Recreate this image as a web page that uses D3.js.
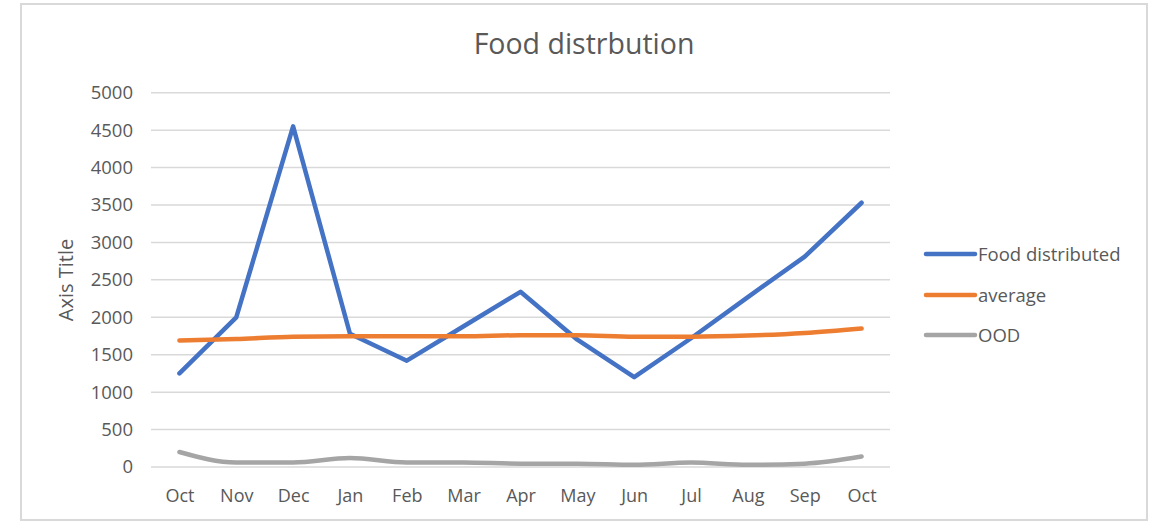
<!DOCTYPE html>
<html><head><meta charset="utf-8">
<script src="https://cdn.jsdelivr.net/npm/d3@7"></script>
<style>body{margin:0;background:#fff;font-family:"Open Sans",sans-serif;}</style>
</head><body><svg id="c" width="1159" height="522"></svg>
<script>
const months = ["Oct","Nov","Dec","Jan","Feb","Mar","Apr","May","Jun","Jul","Aug","Sep","Oct"];
const foodDistributed = [1250,2000,4550,1780,1420,1880,2340,1700,1200,1720,2270,2810,3530];
const average = [1690,1710,1740,1745,1745,1745,1760,1760,1740,1740,1755,1790,1850];
const ood = [200,60,60,120,60,60,45,45,30,60,30,45,140];
const yTicks = [0,500,1000,1500,2000,2500,3000,3500,4000,4500,5000];
const seriesNames = ["Food distributed","average","OOD"];
const seriesColors = ["#4472C4","#ED7D31","#A5A5A5"];

(function(){
const svg = d3.select("#c");
svg.append("rect").attr("x",21).attr("y",4).attr("width",1126).attr("height",516)
  .attr("fill","#fff").attr("stroke","#D9D9D9").attr("stroke-width",2);

const pL=151,pR=890,pT=92.7,pB=467;
const x = d3.scalePoint().domain(d3.range(months.length)).range([pL,pR]).padding(0.5);
const y = d3.scaleLinear().domain([0,5000]).range([pB,pT]);

const g = svg.append("g");
g.selectAll("line.grid").data(yTicks).join("line").attr("class","grid")
  .attr("x1",pL).attr("x2",pR).attr("y1",d=>y(d)).attr("y2",d=>y(d))
  .attr("stroke","#D9D9D9").attr("stroke-width",1.5);

const yAxis = d3.axisLeft(y).tickValues(yTicks).tickFormat(d3.format("d")).tickSize(0).tickPadding(0);
const ya = svg.append("g").attr("transform",`translate(133,0)`).call(yAxis);
ya.select(".domain").remove();
ya.selectAll("text").attr("fill","#595959").style("font-size","18.5px").style("font-family","Open Sans");

const xAxis = d3.axisBottom(x).tickFormat(i=>months[i]).tickSize(0).tickPadding(0);
const xa = svg.append("g").attr("transform",`translate(0,489)`).call(xAxis);
xa.select(".domain").remove();
xa.selectAll("text").attr("fill","#595959").style("font-size","18px").style("font-family","Open Sans");

const data = [foodDistributed, average, ood];
const curves = [d3.curveLinear, d3.curveMonotoneX, d3.curveMonotoneX];
data.forEach((s,k)=>{
  const line = d3.line().x((d,i)=>x(i)).y(d=>y(d)).curve(curves[k]);
  svg.append("path").datum(s).attr("d",line).attr("fill","none")
    .attr("stroke",seriesColors[k]).attr("stroke-width",4.5)
    .attr("stroke-linecap","round").attr("stroke-linejoin","round");
});

svg.append("text").attr("x",584).attr("y",54).attr("text-anchor","middle")
  .attr("fill","#595959").style("font-size","28.5px").text("Food distrbution");
svg.append("text").attr("transform","translate(73,280) rotate(-90)").attr("text-anchor","middle")
  .attr("fill","#595959").style("font-size","20px").text("Axis Title");

const leg = svg.append("g");
const ly = [254,295,335];
seriesNames.forEach((n,k)=>{
  leg.append("line").attr("x1",926).attr("x2",975).attr("y1",ly[k]).attr("y2",ly[k])
    .attr("stroke",seriesColors[k]).attr("stroke-width",4.5).attr("stroke-linecap","round");
  leg.append("text").attr("x",978).attr("y",ly[k]+6.5).attr("fill","#595959")
    .style("font-size","18.5px").text(n);
});
})();
</script></body></html>
